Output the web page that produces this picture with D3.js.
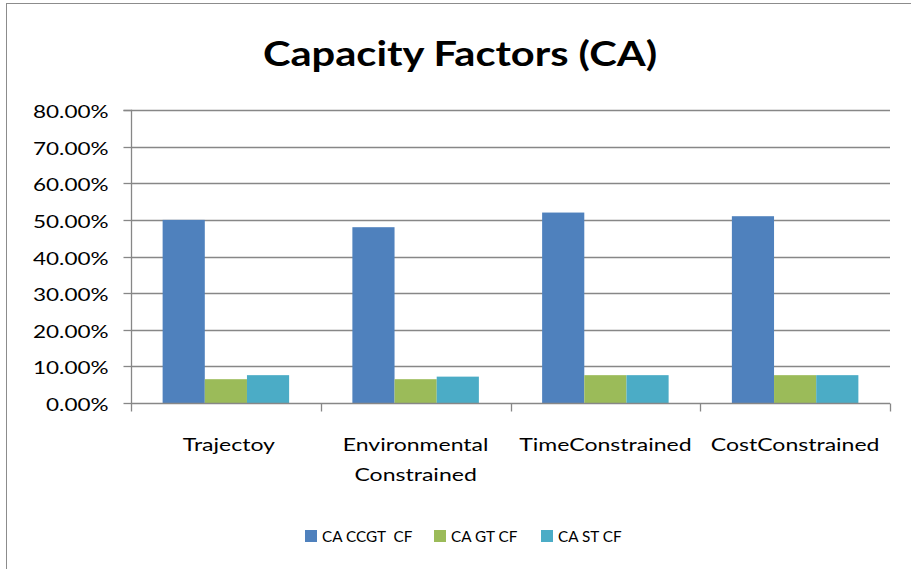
<!DOCTYPE html>
<html>
<head>
<meta charset="utf-8">
<script src="https://cdn.jsdelivr.net/npm/d3@7/dist/d3.min.js"></script>
<style>
  html, body { margin: 0; padding: 0; background: #fff; }
  svg { display: block; }
  text { font-family: Lato, "Open Sans", sans-serif; fill: #000; white-space: pre; }
</style>
</head>
<body>
<svg id="chart" width="911" height="569"></svg>
<script>
const categories = [["Trajectoy"], ["Environmental", "Constrained"], ["TimeConstrained"], ["CostConstrained"]];
const seriesNames = ["CA CCGT  CF", "CA GT CF", "CA ST CF"];
const ccgt = [0.500, 0.480, 0.520, 0.510];
const gt   = [0.065, 0.065, 0.076, 0.076];
const st   = [0.076, 0.072, 0.076, 0.076];
const yTicks = [0, 0.1, 0.2, 0.3, 0.4, 0.5, 0.6, 0.7, 0.8];
const titleText = "Capacity Factors (CA)";

const colors = ["#4F81BD", "#9BBB59", "#4BACC6"];
const series = [ccgt, gt, st];
const SX = 1.25;

const svg = d3.select("#chart");
const m = { left: 131, right: 890, top: 110, bottom: 403 };

// chart border
svg.append("rect").attr("x", 6.5).attr("y", 3.5).attr("width", 1000).attr("height", 1000)
  .attr("fill", "none").attr("stroke", "#8c8c8c").attr("stroke-width", 1);

const x = d3.scaleBand().domain(d3.range(categories.length)).range([m.left, m.right]).paddingInner(0).paddingOuter(0);
const y = d3.scaleLinear().domain([0, 0.8]).range([m.bottom, m.top]);
const bw = x.bandwidth() / (3 + 1.5);
const xs = d3.scaleBand().domain(d3.range(3)).range([bw * 0.75, bw * 3.75]).padding(0);

// gridlines
const grid = svg.append("g");
grid.selectAll("line").data(yTicks.filter(d => d > 0)).join("line")
  .attr("x1", m.left).attr("x2", m.right)
  .attr("y1", d => Math.round(y(d)) + 0.5).attr("y2", d => Math.round(y(d)) + 0.5)
  .attr("stroke", "#878787").attr("stroke-width", 1.3);

// bars
const groups = svg.append("g").selectAll("g").data(categories).join("g")
  .attr("transform", (d, i) => `translate(${x(i)},0)`);
groups.each(function(c, ci) {
  d3.select(this).selectAll("rect").data(series.map((s, si) => ({ v: s[ci], si }))).join("rect")
    .attr("x", d => xs(d.si))
    .attr("width", xs.bandwidth())
    .attr("y", d => y(d.v))
    .attr("height", d => y(0) - y(d.v))
    .attr("fill", d => colors[d.si]);
});

// y axis
const yAxis = d3.axisLeft(y).tickValues(yTicks).tickSize(8).tickFormat(d3.format(".2%"));
const gy = svg.append("g").attr("transform", `translate(${m.left + 0.5},0)`).call(yAxis);
gy.select(".domain").attr("stroke", "#878787").attr("stroke-width", 1.3).attr("d", `M-8,${m.top + 0.5}H0V${m.bottom + 0.5}`);
gy.selectAll(".tick line").attr("stroke", "#878787").attr("stroke-width", 1.3);
gy.selectAll(".tick").attr("transform", d => `translate(0,${Math.round(y(d)) + 0.5})`);
gy.selectAll(".tick text").each(function() {
  const t = d3.select(this);
  t.attr("x", null).attr("dy", null)
   .attr("transform", `translate(-23,7) scale(${SX},1)`)
   .attr("font-size", 18).attr("font-family", "Lato").attr("fill", "#000").attr("text-anchor", "end");
});

// x axis
const xAxis = d3.axisBottom(x).tickSize(0).tickFormat("");
const gx = svg.append("g").attr("transform", `translate(0,${m.bottom + 0.5})`).call(xAxis);
gx.select(".domain").attr("stroke", "#878787").attr("stroke-width", 1.3).attr("d", `M${m.left},0H${m.right}`);
gx.selectAll(".tick").remove();
const bounds = d3.range(categories.length + 1).map(i => i < categories.length ? x(i) : m.right);
gx.selectAll("line.b").data(bounds).join("line").attr("class", "b")
  .attr("x1", d => Math.round(d) + 0.5).attr("x2", d => Math.round(d) + 0.5)
  .attr("y1", 0).attr("y2", 8).attr("stroke", "#878787").attr("stroke-width", 1.3);

// x labels
const xl = svg.append("g");
categories.forEach((lines, i) => {
  lines.forEach((ln, li) => {
    xl.append("text")
      .attr("transform", `translate(${x(i) + x.bandwidth() / 2 + (i === 0 ? 3 : 0)},${451 + li * 30}) scale(1.28,1)`)
      .attr("text-anchor", "middle").attr("font-size", 18).text(ln);
  });
});

// title
svg.append("text")
  .attr("transform", `translate(460,66) scale(1.19,1)`)
  .attr("text-anchor", "middle").attr("font-size", 35).attr("font-weight", "bold")
  .text(titleText);

// legend
const legX = [305, 434, 541];
const leg = svg.append("g");
seriesNames.forEach((lab, i) => {
  leg.append("rect").attr("x", legX[i]).attr("y", 530).attr("width", 12).attr("height", 12).attr("fill", colors[i]);
  leg.append("text").attr("transform", `translate(${legX[i] + 17},542) scale(1.02,1)`)
    .attr("font-size", 15).text(lab);
});
</script>
</body>
</html>
